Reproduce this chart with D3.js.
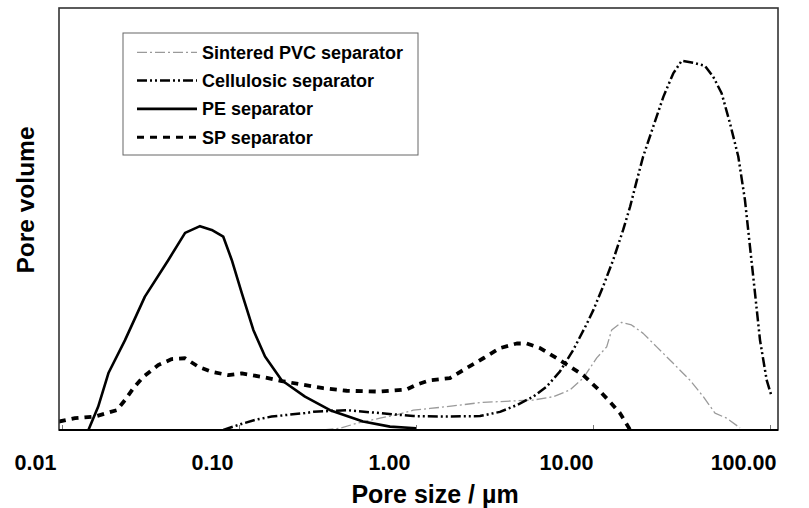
<!DOCTYPE html>
<html>
<head>
<meta charset="utf-8">
<script src="https://d3js.org/d3.v7.min.js"></script>
<style>
	body { margin: 0; background: #fff; }
	text { font-family: "Liberation Sans", Arial, Helvetica, sans-serif; font-weight: bold; fill: #000; }
</style>
</head>
<body>
<div class="container"></div>
<script>
////////////////////////////////////////////////////////////////
// DATA (pore size in um, pore volume in arbitrary units 0-100)
////////////////////////////////////////////////////////////////
var seriesNames = ["Sintered PVC separator", "Cellulosic separator", "PE separator", "SP separator"];
var xTicks = [0.01, 0.1, 1, 10, 100];
var xTickLabels = ["0.01", "0.10", "1.00", "10.00", "100.00"];

var pvcSize = [0.30, 0.372, 0.462, 0.626, 0.778, 0.965, 1.2, 1.62, 2.30, 3.55, 4.60, 5.97, 7.41, 8.81, 10.5, 11.95, 12.75, 14.5, 16.5, 19.2, 22.9, 28.4, 35.3, 42.0, 48.9, 56.9, 66.2, 67.7];
var pvcVol  = [0, 0.4, 1.6, 2.8, 3.6, 4.7, 5.1, 5.7, 6.5, 6.9, 7.1, 7.9, 9.5, 12.3, 17.1, 19.7, 23.7, 25.5, 24.9, 22.9, 19.7, 15.8, 11.8, 7.9, 4.0, 2.8, 0.8, 0.5];

var celSize = [0.0815, 0.0991, 0.1232, 0.153, 0.19, 0.236, 0.263, 0.406, 0.626, 0.965, 1.49, 2.30, 2.98, 3.71, 4.60, 5.47, 6.51, 7.74, 9.21, 10.04, 11.4, 13.0, 14.8, 16.2, 17.7, 19.2, 21.9, 25.0, 28.4, 31.7, 36.9, 42.9, 47.8, 53.3, 59.4, 66.2, 72.2, 77.1, 82.3, 87.8, 95.8, 102.2];
var celVol  = [0, 1.2, 2.4, 3.2, 3.6, 4.0, 4.3, 4.7, 4.0, 3.3, 3.2, 3.3, 4.3, 5.9, 7.9, 10.3, 13.9, 19.0, 25.1, 28.4, 34.0, 40.3, 47.4, 52.9, 59.2, 64.8, 71.9, 79.0, 84.5, 87.5, 87.0, 86.3, 83.7, 79.8, 72.7, 64.8, 54.5, 43.4, 32.4, 21.3, 11.8, 7.9];

var peSize = [0.0141, 0.016, 0.0183, 0.0227, 0.0294, 0.0399, 0.0496, 0.0602, 0.0701, 0.0815, 0.091, 0.1036, 0.1205, 0.1403, 0.1742, 0.236, 0.327, 0.502, 0.713, 1.0];
var peVol  = [0, 5.5, 13.5, 21.3, 31.6, 40.3, 46.7, 48.3, 47.4, 45.8, 40.3, 32.5, 23.7, 17.4, 11.8, 7.9, 4.7, 2.0, 0.8, 0.4];

var spSize = [0.0096, 0.01184, 0.01536, 0.0204, 0.0227, 0.0253, 0.0288, 0.035, 0.0417, 0.0496, 0.0589, 0.0701, 0.087, 0.1036, 0.1344, 0.1742, 0.2308, 0.2995, 0.406, 0.626, 0.886, 1.0, 1.2, 1.556, 1.85, 2.40, 2.98, 3.71, 4.22, 5.02, 6.24, 7.41, 8.81, 10.5, 12.2, 14.2, 15.8, 16.2];
var spVol  = [2.0, 2.8, 3.2, 4.7, 7.1, 9.9, 12.6, 15.4, 16.8, 17.0, 15.0, 13.8, 13.0, 13.4, 12.6, 11.6, 10.7, 9.9, 9.3, 9.1, 9.6, 10.7, 11.8, 12.3, 14.2, 17.0, 19.4, 20.5, 20.5, 19.4, 17.0, 15.0, 13.0, 10.0, 7.1, 4.0, 0.8, 0];

////////////////////////////////////////////////////////////////
// LINE STYLES
////////////////////////////////////////////////////////////////
var styles = {
	"Sintered PVC separator": { stroke: "#9a9a9a", width: 1.3, dash: "10,3,2,3" },
	"Cellulosic separator":   { stroke: "#000", width: 2.5, dash: "10,3,2,3,2,3" },
	"PE separator":           { stroke: "#000", width: 2.6, dash: null },
	"SP separator":           { stroke: "#000", width: 3.8, dash: "7,6" }
};

////////////////////////////////////////////////////////////////
// CREATE STAGE
////////////////////////////////////////////////////////////////
var W = 809, H = 508;
var box = { left: 59, right: 778, top: 8, bottom: 430 };

var svg = d3.select(".container")
	.append("svg")
	.attr("width", W)
	.attr("height", H);

var x = d3.scaleLog().domain([0.01, 100]).range([62, 770]);
var y = d3.scaleLinear().domain([0, 100]).range([box.bottom, box.top]);

function zip(xs, ys) {
	return xs.map(function(v, i) { return [v, ys[i]]; });
}

var series = [
	{ name: seriesNames[0], pts: zip(pvcSize, pvcVol) },
	{ name: seriesNames[1], pts: zip(celSize, celVol) },
	{ name: seriesNames[2], pts: zip(peSize, peVol) },
	{ name: seriesNames[3], pts: zip(spSize, spVol) }
];

////////////////////////////////////////////////////////////////
// AXIS + BOX
////////////////////////////////////////////////////////////////
svg.append("clipPath").attr("id", "plotclip")
	.append("rect")
	.attr("x", box.left).attr("y", box.top)
	.attr("width", box.right - box.left).attr("height", box.bottom - box.top);

var xAxis = d3.axisBottom(x)
	.tickValues(xTicks)
	.tickFormat(function(d, i) { return xTickLabels[i]; })
	.tickSize(-5)
	.tickPadding(25);

var gx = svg.append("g")
	.attr("transform", "translate(0," + box.bottom + ")")
	.call(xAxis);
gx.select(".domain").remove();
gx.selectAll(".tick line").attr("stroke", "#777").attr("stroke-width", 1);
// labels sit a little left of their tick marks in the original
gx.selectAll(".tick text")
	.attr("x", -27)
	.attr("font-size", 21.5)
	.attr("font-family", "'Liberation Sans', Arial, sans-serif")
	.attr("font-weight", "bold");

////////////////////////////////////////////////////////////////
// CURVES
////////////////////////////////////////////////////////////////
var line = d3.line()
	.x(function(d) { return x(d[0]); })
	.y(function(d) { return y(d[1]); });

svg.append("g").attr("clip-path", "url(#plotclip)")
	.selectAll("path")
	.data(series)
	.enter()
	.append("path")
	.attr("d", function(d) { return line(d.pts); })
	.attr("fill", "none")
	.attr("stroke", function(d) { return styles[d.name].stroke; })
	.attr("stroke-width", function(d) { return styles[d.name].width; })
	.attr("stroke-dasharray", function(d) { return styles[d.name].dash; })
	.attr("stroke-linejoin", "round");

svg.append("rect")
	.attr("x", box.left).attr("y", box.top)
	.attr("width", box.right - box.left).attr("height", box.bottom - box.top)
	.attr("fill", "none")
	.attr("stroke", "#333")
	.attr("stroke-width", 1.6);

svg.append("line")
	.attr("x1", box.left).attr("x2", box.right)
	.attr("y1", box.bottom).attr("y2", box.bottom)
	.attr("stroke", "#000").attr("stroke-width", 2);

////////////////////////////////////////////////////////////////
// TITLES
////////////////////////////////////////////////////////////////
svg.append("text")
	.attr("x", 435).attr("y", 503)
	.attr("text-anchor", "middle")
	.attr("font-size", 25)
	.text("Pore size / \u00b5m");

svg.append("text")
	.attr("transform", "translate(34,200) rotate(-90)")
	.attr("text-anchor", "middle")
	.attr("font-size", 24.5)
	.text("Pore volume");

////////////////////////////////////////////////////////////////
// LEGEND
////////////////////////////////////////////////////////////////
var legend = svg.append("g");
legend.append("rect")
	.attr("x", 123).attr("y", 33)
	.attr("width", 295).attr("height", 122)
	.attr("fill", "#fff")
	.attr("stroke", "#666")
	.attr("stroke-width", 1);

var rows = legend.selectAll("g.row")
	.data(seriesNames)
	.enter()
	.append("g")
	.attr("class", "row")
	.attr("transform", function(d, i) { return "translate(0," + (52.3 + i * 28.3) + ")"; });

rows.append("line")
	.attr("x1", 137).attr("x2", 197)
	.attr("y1", 0).attr("y2", 0)
	.attr("stroke", function(d) { return styles[d].stroke; })
	.attr("stroke-width", function(d) { return Math.min(styles[d].width, 3); })
	.attr("stroke-dasharray", function(d) { return styles[d].dash; });

rows.append("text")
	.attr("x", 202).attr("y", 6.3)
	.attr("font-size", 18)
	.text(function(d) { return d; });
</script>
</body>
</html>
